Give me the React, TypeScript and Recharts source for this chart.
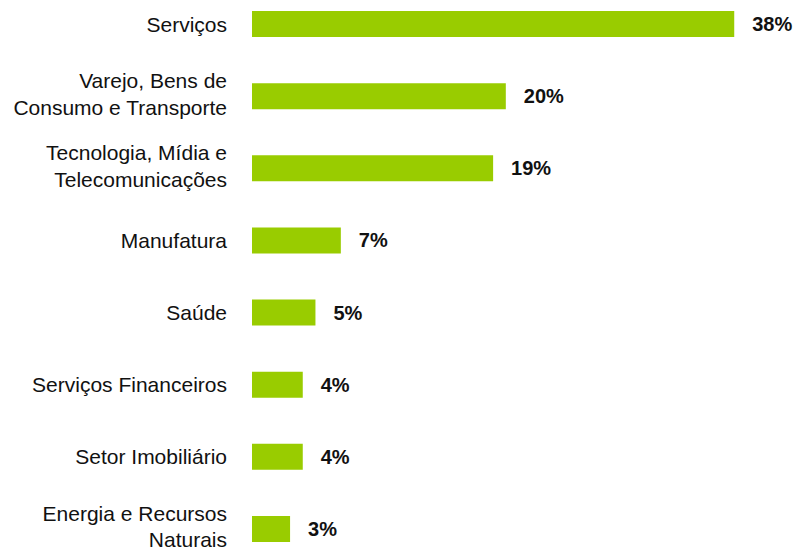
import React from "react";
import { BarChart, Bar, XAxis, YAxis, LabelList } from "recharts";

// sectors, top to bottom
const categories = [
  "Serviços",
  "Varejo, Bens de\nConsumo e Transporte",
  "Tecnologia, Mídia e\nTelecomunicações",
  "Manufatura",
  "Saúde",
  "Serviços Financeiros",
  "Setor Imobiliário",
  "Energia e Recursos\nNaturais",
];
const shares = [38, 20, 19, 7, 5, 4, 4, 3];

const data = categories.map((name, i) => ({ name, value: shares[i] }));

const GREEN = "#99CC00";
const FONT = "'Liberation Sans', Arial, sans-serif";

function SectorTick(props: any) {
  const { y, payload } = props;
  const lines = String(payload.value).split("\n");
  const lh = 26.7;
  // wrapped labels sit a touch above the bar centre in the original
  const start = -((lines.length - 1) * lh) / 2 - (lines.length > 1 ? 2.5 : 0);
  return (
    <text x={227} y={y} textAnchor="end" fontFamily={FONT} fontSize={21} fill="#111">
      {lines.map((l, i) => (
        <tspan key={i} x={227} y={y + start + i * lh} dy="0.36em">
          {l}
        </tspan>
      ))}
    </text>
  );
}

export default function App() {
  return (
    <div style={{ position: "absolute", left: 0, top: -12 }}>
      <BarChart
        width={795}
        height={577}
        data={data}
        layout="vertical"
        margin={{ top: 0, right: 10, bottom: 0, left: 0 }}
      >
        <XAxis type="number" domain={[0, 42]} hide />
        <YAxis
          type="category"
          dataKey="name"
          width={252}
          axisLine={false}
          tickLine={false}
          interval={0}
          tick={<SectorTick />}
        />
        <Bar dataKey="value" fill={GREEN} barSize={26} isAnimationActive={false}>
          <LabelList
            dataKey="value"
            position="right"
            offset={18}
            formatter={(v: any) => `${v}%`}
            style={{ fontFamily: FONT, fontSize: 20, fontWeight: 700, fill: "#111" }}
          />
        </Bar>
      </BarChart>
    </div>
  );
}
